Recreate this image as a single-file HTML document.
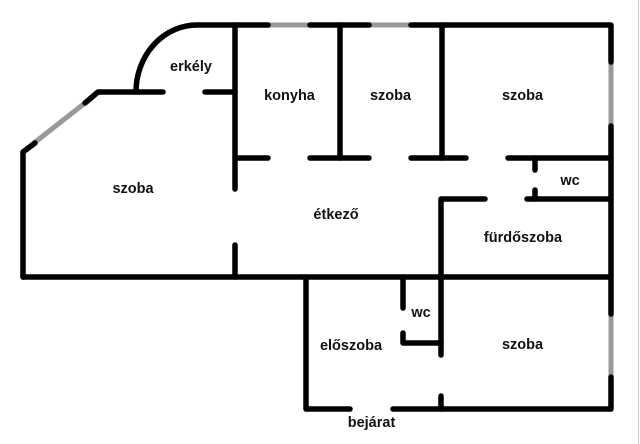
<!DOCTYPE html>
<html><head><meta charset="utf-8"><style>
html,body{margin:0;padding:0;background:#fff;width:640px;height:444px;overflow:hidden}
svg{display:block}
text{font-family:"Liberation Sans",sans-serif;font-weight:bold;font-size:14.5px;fill:#111;text-anchor:middle}
</style></head><body>
<svg width="640" height="444" viewBox="0 0 640 444">
<rect x="638" y="0" width="1" height="444" fill="#ccc"/>
<g fill="none" stroke="#999" stroke-width="5">
<path d="M268 25H310M369 25H411M611 62V126M611 314V377M34 143L85 103"/>
</g>
<g fill="none" stroke="#000" stroke-width="5.5" stroke-linecap="round" stroke-linejoin="round">
<path d="M136 92A61 67 0 0 1 197 25H268"/>
<path d="M310 25H369"/>
<path d="M411 25H611V62"/>
<path d="M611 126V314"/>
<path d="M611 377V409H393"/>
<path d="M350 409H306V277"/>
<path d="M23 277H611"/>
<path d="M23 277V152L35 143"/>
<path d="M85 103L98 92H163"/>
<path d="M205 92H235"/>
<path d="M235 25V189"/>
<path d="M235 245V277"/>
<path d="M235 158H268"/>
<path d="M310 158H369"/>
<path d="M411 158H466"/>
<path d="M508 158H611"/>
<path d="M340 25V158"/>
<path d="M442 25V158"/>
<path d="M535 158V170"/>
<path d="M535 190V199"/>
<path d="M527 199H611"/>
<path d="M485 199H441V355"/>
<path d="M441 396V409"/>
<path d="M403 277V308"/>
<path d="M403 333V343H441"/>
</g>
<text x="191" y="71">erkély</text>
<text x="289.500" y="100">konyha</text>
<text x="390.500" y="100">szoba</text>
<text x="522.500" y="100">szoba</text>
<text x="133" y="193">szoba</text>
<text x="570" y="185">wc</text>
<text x="336" y="219">étkező</text>
<text x="523" y="242">fürdőszoba</text>
<text x="421" y="317">wc</text>
<text x="351" y="350">előszoba</text>
<text x="522.500" y="349">szoba</text>
<text x="371.500" y="427">bejárat</text>
</svg>
</body></html>
